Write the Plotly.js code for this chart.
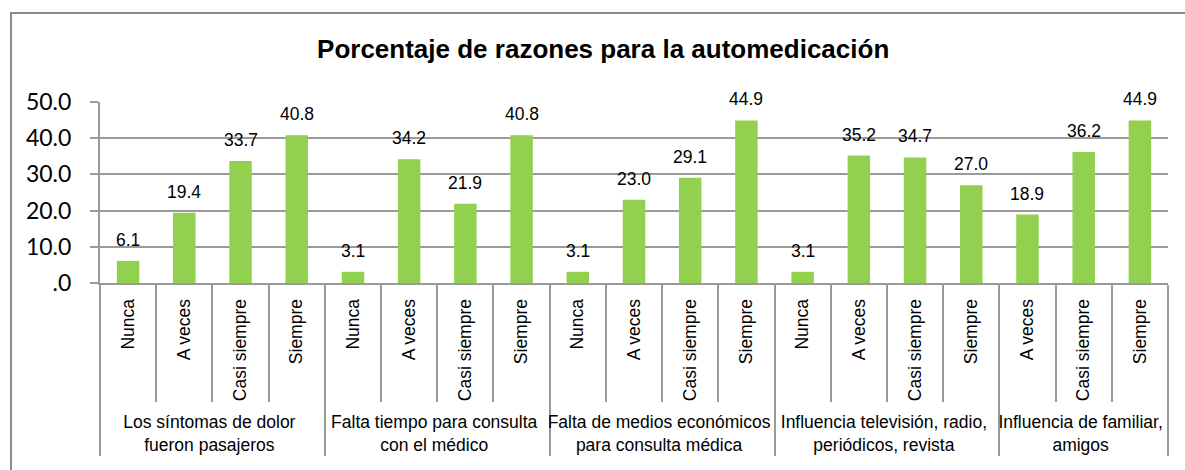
<!DOCTYPE html>
<html>
<head>
<meta charset="utf-8">
<script src="https://cdn.plot.ly/plotly-3.0.1.min.js"></script>
<style>
  body { margin: 0; background: #fff; }
  #frame { position: absolute; left: 10px; top: 12px; width: 1190px; height: 470px; border: 2px solid #8c8c8c; }
  #chart { position: absolute; left: 0; top: 0; width: 1185px; height: 470px; }
</style>
</head>
<body>
<div id="frame"></div>
<div id="chart"></div>
<script>
const groupNames = [
    'Los síntomas de dolor<br>fueron pasajeros',
    'Falta tiempo para consulta<br>con el médico',
    'Falta de medios económicos<br>para consulta médica',
    'Influencia televisión, radio,<br>periódicos, revista',
    'Influencia de familiar,<br>amigos'
];
const barGroup = [0, 0, 0, 0, 1, 1, 1, 1, 2, 2, 2, 2, 3, 3, 3, 3, 4, 4, 4];
const barAnswer = [
    'Nunca', 'A veces', 'Casi siempre', 'Siempre',
    'Nunca', 'A veces', 'Casi siempre', 'Siempre',
    'Nunca', 'A veces', 'Casi siempre', 'Siempre',
    'Nunca', 'A veces', 'Casi siempre', 'Siempre',
    'A veces', 'Casi siempre', 'Siempre'
];
const barValue = [
    6.1, 19.4, 33.7, 40.8,
    3.1, 34.2, 21.9, 40.8,
    3.1, 23.0, 29.1, 44.9,
    3.1, 35.2, 34.7, 27.0,
    18.9, 36.2, 44.9
];
const yTickValues = [0, 10, 20, 30, 40, 50];
const yTickLabels = ['.0', '10.0', '20.0', '30.0', '40.0', '50.0'];

const lineGrey = '#9a9a9a';

const trace = {
    type: 'bar',
    x: [barGroup.map(g => groupNames[g]), barAnswer],
    y: barValue,
    marker: { color: '#92d050' },
    hoverinfo: 'none'
};

// value labels sit a little above each bar
const valueLabels = barValue.map((v, i) => ({
    x: i,
    y: v,
    text: v.toFixed(1),
    showarrow: false,
    yanchor: 'bottom',
    yshift: 9,
    font: { family: 'Liberation Sans, Arial, sans-serif', size: 17.5, color: '#000' }
}));

const layout = {
    width: 1185,
    height: 470,
    margin: { l: 100, r: 17, t: 102, b: 187 },
    paper_bgcolor: 'rgba(0,0,0,0)',
    plot_bgcolor: 'rgba(0,0,0,0)',
    showlegend: false,
    bargap: 0.6,
    annotations: valueLabels,
    title: {
        text: '<b>Porcentaje de razones para la automedicación</b>',
        font: { family: 'Liberation Sans, Arial, sans-serif', size: 26, color: '#000' },
        x: 0.509,
        xanchor: 'center',
        y: 0.895,
        yanchor: 'middle'
    },
    xaxis: {
        type: 'multicategory',
        showline: true,
        linecolor: lineGrey,
        linewidth: 2,
        ticks: 'outside',
        tickson: 'boundaries',
        ticklen: 117,
        tickwidth: 2,
        tickcolor: lineGrey,
        tickangle: -90,
        ticklabelstandoff: 7,
        showdividers: true,
        dividercolor: lineGrey,
        dividerwidth: 2,
        tickfont: { family: 'Liberation Sans, Arial, sans-serif', size: 17.5, color: '#000' }
    },
    yaxis: {
        range: [0, 50],
        tickvals: yTickValues,
        ticktext: yTickLabels,
        showline: true,
        linecolor: lineGrey,
        linewidth: 2,
        ticks: 'outside',
        ticklen: 8,
        tickwidth: 2,
        tickcolor: lineGrey,
        showgrid: true,
        gridcolor: lineGrey,
        gridwidth: 2,
        zeroline: false,
        ticklabelstandoff: 14,
        tickfont: { family: 'Lato, sans-serif', size: 23, color: '#000' }
    }
};

Plotly.newPlot('chart', [trace], layout, { displayModeBar: false, staticPlot: true });
</script>
</body>
</html>
